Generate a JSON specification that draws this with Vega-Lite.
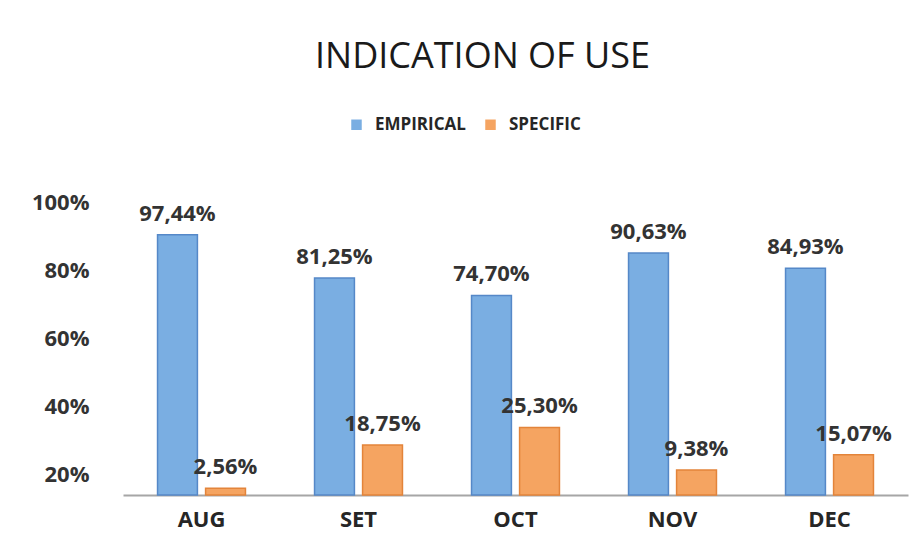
{
  "$schema": "https://vega.github.io/schema/vega-lite/v6.json",
  "width": 785,
  "height": 305,
  "autosize": "none",
  "padding": {"left": 123, "top": 190, "right": 14, "bottom": 52},
  "background": "white",
  "title": {
    "text": "INDICATION OF USE",
    "font": "Open Sans",
    "fontSize": 36,
    "fontWeight": "normal",
    "color": "#1a1a1a",
    "anchor": "middle",
    "frame": "group",
    "dx": -33,
    "offset": 40
  },
  "config": {
    "locale": {"number": {"decimal": ",", "thousands": ".", "grouping": [3], "currency": ["", " €"]}},
    "view": {"stroke": null},
    "font": "Open Sans"
  },
  "resolve": {"scale": {"y": "independent"}},
  "layer": [
    {
      "data": {
        "values": [
          {"month": "AUG", "type": "EMPIRICAL", "value": 0.9744},
          {"month": "AUG", "type": "SPECIFIC", "value": 0.0256},
          {"month": "SET", "type": "EMPIRICAL", "value": 0.8125},
          {"month": "SET", "type": "SPECIFIC", "value": 0.1875},
          {"month": "OCT", "type": "EMPIRICAL", "value": 0.747},
          {"month": "OCT", "type": "SPECIFIC", "value": 0.253},
          {"month": "NOV", "type": "EMPIRICAL", "value": 0.9063},
          {"month": "NOV", "type": "SPECIFIC", "value": 0.0938},
          {"month": "DEC", "type": "EMPIRICAL", "value": 0.8493},
          {"month": "DEC", "type": "SPECIFIC", "value": 0.1507}
        ]
      },
      "encoding": {
        "x": {
          "field": "month",
          "type": "nominal",
          "sort": ["AUG", "SET", "OCT", "NOV", "DEC"],
          "scale": {"paddingInner": 0.44, "paddingOuter": 0.22},
          "axis": {
            "title": null,
            "labelAngle": 0,
            "labelFont": "Open Sans",
            "labelFontSize": 22,
            "labelFontWeight": "bold",
            "labelColor": "#262626",
            "labelPadding": 14,
            "ticks": false,
            "domainColor": "#a6a6a6",
            "domainWidth": 2
          }
        },
        "xOffset": {
          "field": "type",
          "type": "nominal",
          "scale": {"paddingInner": 0.17, "paddingOuter": 0}
        },
        "y": {
          "field": "value",
          "type": "quantitative",
          "scale": {"domain": [0, 1.142], "nice": false, "zero": true},
          "axis": null
        }
      },
      "layer": [
        {
          "mark": {"type": "bar", "strokeWidth": 1.5},
          "encoding": {
            "color": {
              "field": "type",
              "type": "nominal",
              "scale": {"domain": ["EMPIRICAL", "SPECIFIC"], "range": ["#7aaee2", "#f5a461"]},
              "legend": {
                "title": null,
                "orient": "none",
                "direction": "horizontal",
                "legendX": 225,
                "legendY": -74,
                "symbolType": "square",
                "symbolSize": 110,
                "symbolStrokeWidth": 0,
                "labelFont": "Open Sans",
                "labelFontSize": 17,
                "labelFontWeight": "bold",
                "labelColor": "#262626",
                "labelOffset": 10,
                "columnPadding": 16
              }
            },
            "stroke": {
              "field": "type",
              "type": "nominal",
              "scale": {"domain": ["EMPIRICAL", "SPECIFIC"], "range": ["#5588c8", "#e3843a"]},
              "legend": null
            }
          }
        },
        {
          "mark": {
            "type": "text",
            "baseline": "middle",
            "dy": -21,
            "font": "Open Sans",
            "fontSize": 22,
            "fontWeight": "bold",
            "fill": "#333333"
          },
          "encoding": {
            "text": {"field": "value", "type": "quantitative", "format": ".2%"}
          }
        }
      ]
    },
    {
      "data": {"values": [{"t": 0.2}, {"t": 0.4}, {"t": 0.6}, {"t": 0.8}, {"t": 1.0}]},
      "mark": {"type": "point", "opacity": 0},
      "encoding": {
        "y": {
          "field": "t",
          "type": "quantitative",
          "scale": {"domain": [0.141, 1.038], "nice": false, "zero": false},
          "axis": {
            "orient": "left",
            "title": null,
            "values": [0.2, 0.4, 0.6, 0.8, 1.0],
            "format": ".0%",
            "labelFont": "Open Sans",
            "labelFontSize": 22,
            "labelFontWeight": "bold",
            "labelColor": "#333333",
            "labelPadding": 34,
            "ticks": false,
            "domain": false,
            "grid": false
          }
        }
      }
    }
  ]
}
